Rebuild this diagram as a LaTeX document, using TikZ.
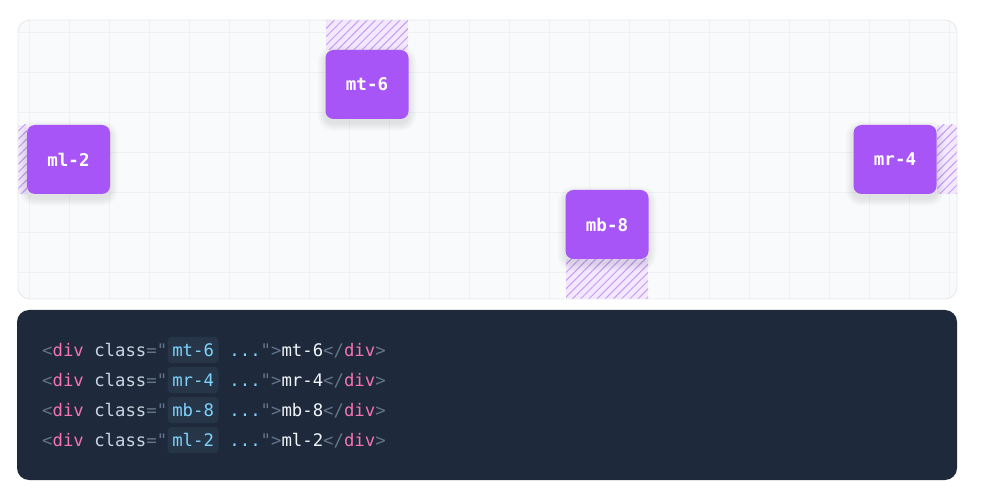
\documentclass[tikz,border=0pt]{standalone}
\usepackage{fontspec}
\setmonofont{DejaVu Sans Mono}
\usetikzlibrary{patterns.meta}
\definecolor{panelbg}{HTML}{F8FAFC}
\definecolor{panelborder}{HTML}{E5E7EB}
\definecolor{gridc}{HTML}{EEF1F5}
\definecolor{boxc}{HTML}{A855F7}
\definecolor{hatchbg}{HTML}{F3E9FE}
\definecolor{hatchln}{HTML}{C99BF6}
\definecolor{codebg}{HTML}{1E293B}
\definecolor{hlbg}{HTML}{263548}
\definecolor{punct}{HTML}{64748B}
\definecolor{tagc}{HTML}{F472B6}
\definecolor{attrc}{HTML}{CBD5E1}
\definecolor{hlc}{HTML}{7DD3FC}
\definecolor{contc}{HTML}{F1F5F9}
\tikzset{
  mbox/.style={fill=boxc, rounded corners=8pt, minimum width=83pt, minimum height=69pt,
    inner sep=0pt, text=white, font=\ttfamily\bfseries\fontsize{17.5}{20}\selectfont},
  hatch/.style={pattern={Lines[angle=45,distance=5.8pt,line width=1pt]}, pattern color=hatchln},
  codetxt/.style={inner sep=0pt, anchor=base west, font=\ttfamily\fontsize{17.3}{20}\selectfont},
  hlbox/.style={codetxt, fill=hlbg, rounded corners=4pt, inner xsep=4.7pt, text height=19pt, text depth=7pt, text=hlc}
}
\newcommand{\softshadow}[2]{%
  \foreach \k in {1,...,8}{
    \fill[black, opacity=0.012, rounded corners=8pt+\k pt]
      (#1-41.5-\k, #2-34.5+4-\k) rectangle (#1+41.5+\k, #2+34.5+4+\k);
  }}
\begin{document}
\begin{tikzpicture}[x=1pt,y=-1pt]
\useasboundingbox (0,0) rectangle (988,494);
% top panel
\fill[panelbg, rounded corners=12pt] (18,20) rectangle (957,299);
\begin{scope}
  \clip[rounded corners=12pt] (18,20) rectangle (957,299);
  \foreach \gx in {0,...,23} \draw[gridc, line width=0.8pt] (29+40*\gx,20) -- (29+40*\gx,299);
  \foreach \gy in {0,...,6} \draw[gridc, line width=0.8pt] (18,32+40*\gy) -- (957,32+40*\gy);
  \fill[hatchbg] (326,20) rectangle (408,50);
  \fill[hatch] (326,20) rectangle (408,50);
  \fill[hatchbg] (18,125) rectangle (27,194);
  \fill[hatch] (18,125) rectangle (27,194);
  \fill[hatchbg] (937,125) rectangle (957,194);
  \fill[hatch] (937,125) rectangle (957,194);
  \fill[hatchbg] (566,259) rectangle (648,299);
  \fill[hatch] (566,259) rectangle (648,299);
  \softshadow{367}{84.5}
  \softshadow{68.5}{159.5}
  \softshadow{895}{159.5}
  \softshadow{607}{224.5}
\end{scope}
\draw[panelborder, line width=0.8pt, rounded corners=12pt] (18,20) rectangle (957,299);
\node[mbox] (mt) at (367,84.5) {mt-6};
\node[mbox] (ml) at (68.5,159.5) {ml-2};
\node[mbox] (mr) at (895,159.5) {mr-4};
\node[mbox] (mb) at (607,224.5) {mb-8};
% code panel
\fill[codebg, rounded corners=12pt] (17,310) rectangle (957,480);
\foreach \lab/\yy/\n in {mt-6/356/1, mr-4/386/2, mb-8/416/3, ml-2/446/4}{
  \node[codetxt] (a\n) at (42,\yy) {\textcolor{punct}{<}\textcolor{tagc}{div}\ \textcolor{attrc}{class}\textcolor{punct}{="}};
  \node[hlbox] (h\n) at (a\n.base east) {\lab};
  \node[codetxt] (b\n) at (h\n.base east) {\textcolor{hlc}{\ ...}\textcolor{punct}{">}\textcolor{contc}{\lab}\textcolor{punct}{</}\textcolor{tagc}{div}\textcolor{punct}{>}};
}
\end{tikzpicture}
\end{document}
